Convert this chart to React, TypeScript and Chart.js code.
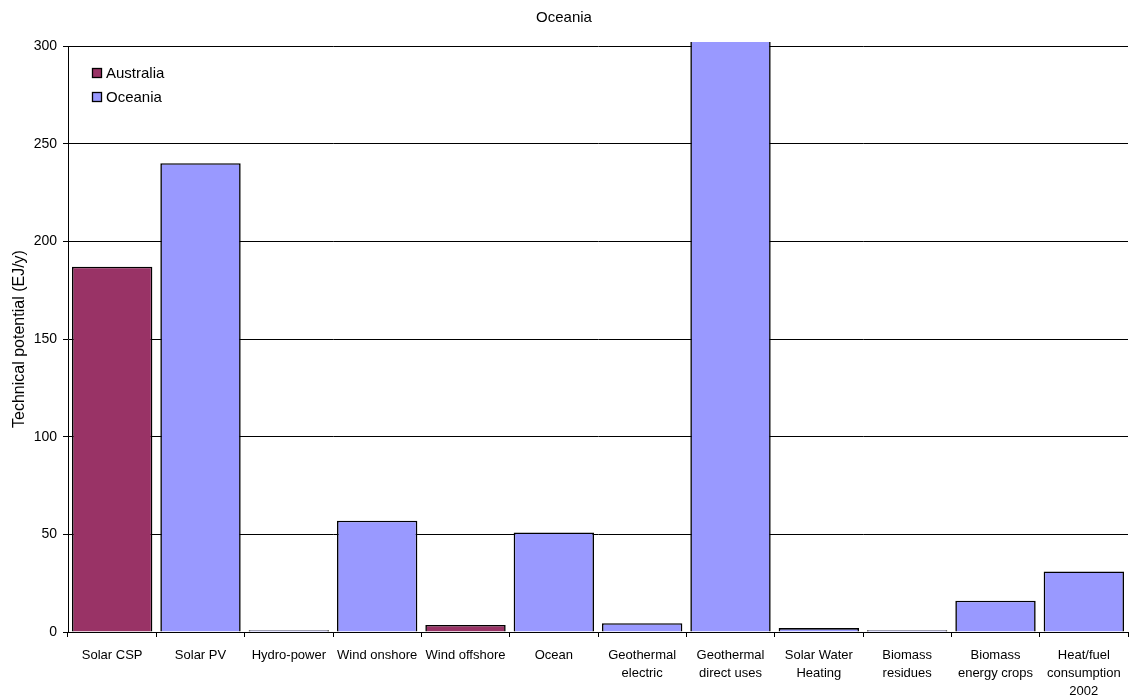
import { useEffect, useRef } from "react";
import { Chart, registerables } from "chart.js";

Chart.register(...registerables);

// Renewable technical potential by source (EJ/y)
const categories: (string | string[])[] = [
  "Solar CSP",
  "Solar PV",
  "Hydro-power",
  "Wind onshore",
  "Wind offshore",
  "Ocean",
  ["Geothermal", "electric"],
  ["Geothermal", "direct uses"],
  ["Solar Water", "Heating"],
  ["Biomass", "residues"],
  ["Biomass", "energy crops"],
  ["Heat/fuel", "consumption", "2002"],
];

const australia: (number | null)[] = [187, null, null, null, 3.6, null, null, null, null, null, null, null];
const oceania: (number | null)[] = [null, 240, 0.9, 57, null, 51, 4.5, 320, 2, 0.9, 16, 31];

const yMin = 0;
const yMax = 300;
const yStep = 50;

const FONT = "'Liberation Sans', Arial, Helvetica, sans-serif";
const AUS_COLOR = "#993366";
const OCE_COLOR = "#9999FF";

// Legend boxed inside the plot area, top-left corner
const insideLegend = {
  id: "insideLegend",
  afterDraw(chart: any) {
    const { ctx, chartArea } = chart;
    const x0 = chartArea.left + 24;
    const y0 = chartArea.top + 27;
    const step = 23.5;
    ctx.save();
    ctx.font = `15px ${FONT}`;
    ctx.textBaseline = "middle";
    ctx.textAlign = "left";
    chart.data.datasets.forEach((ds: any, i: number) => {
      const cy = Math.round(y0 + i * step);
      ctx.fillStyle = ds.backgroundColor;
      ctx.fillRect(x0, cy - 5, 10, 10);
      ctx.strokeStyle = "#000";
      ctx.lineWidth = 1.3;
      ctx.strokeRect(x0 + 0.5, cy - 4.5, 9, 9);
      ctx.fillStyle = "#000";
      ctx.fillText(ds.label, x0 + 14, cy + 1);
    });
    ctx.restore();
  },
};

const barStyle = {
  borderColor: "#000",
  borderWidth: 1.6,
  grouped: false,
  barPercentage: 0.91,
  categoryPercentage: 1,
  clip: { left: 0, top: 4, right: 0, bottom: 0 },
};

export default function App() {
  const canvasRef = useRef<HTMLCanvasElement | null>(null);

  useEffect(() => {
    document.body.style.margin = "0";
    document.body.style.background = "#fff";
    const canvas = canvasRef.current;
    if (!canvas) return;

    const chart = new Chart(canvas, {
      type: "bar",
      data: {
        labels: categories,
        datasets: [
          {
            label: "Australia",
            data: australia,
            backgroundColor: AUS_COLOR,
            ...barStyle,
          } as any,
          {
            label: "Oceania",
            data: oceania,
            backgroundColor: OCE_COLOR,
            ...barStyle,
          } as any,
        ],
      },
      options: {
        animation: false,
        responsive: false,
        layout: { padding: { left: 0, right: 2, top: 0, bottom: 0 } },
        plugins: {
          legend: { display: false },
          tooltip: { enabled: false },
          title: {
            display: true,
            text: "Oceania",
            color: "#000",
            font: { family: FONT, size: 15, weight: "normal" },
            padding: { top: 9, bottom: 19 },
          },
        },
        scales: {
          x: {
            type: "category",
            offset: true,
            grid: {
              offset: true,
              drawOnChartArea: false,
              drawTicks: true,
              tickLength: 5,
              color: "#000",
            },
            border: { color: "#000", width: 1 },
            ticks: {
              color: "#000",
              font: { family: FONT, size: 13, lineHeight: 1.4 },
              padding: 9,
              maxRotation: 0,
              minRotation: 0,
              autoSkip: false,
            },
            afterFit: (s: any) => {
              s.height = 64;
            },
          },
          y: {
            min: yMin,
            max: yMax,
            ticks: {
              stepSize: yStep,
              color: "#000",
              font: { family: FONT, size: 14 },
              padding: 6,
            },
            grid: {
              color: "#000",
              lineWidth: 1,
              drawTicks: true,
              tickLength: 5,
            },
            border: { color: "#000", width: 1 },
            title: {
              display: true,
              text: "Technical potential (EJ/y)",
              color: "#000",
              font: { family: FONT, size: 16, weight: "normal" },
              padding: { top: 10, bottom: 0 },
            },
            afterFit: (s: any) => {
              s.width = 68;
            },
          },
        },
      },
      plugins: [insideLegend],
    });

    return () => chart.destroy();
  }, []);

  return (
    <div style={{ width: 1130, height: 696, background: "#fff" }}>
      <canvas ref={canvasRef} width={1130} height={696} />
    </div>
  );
}
